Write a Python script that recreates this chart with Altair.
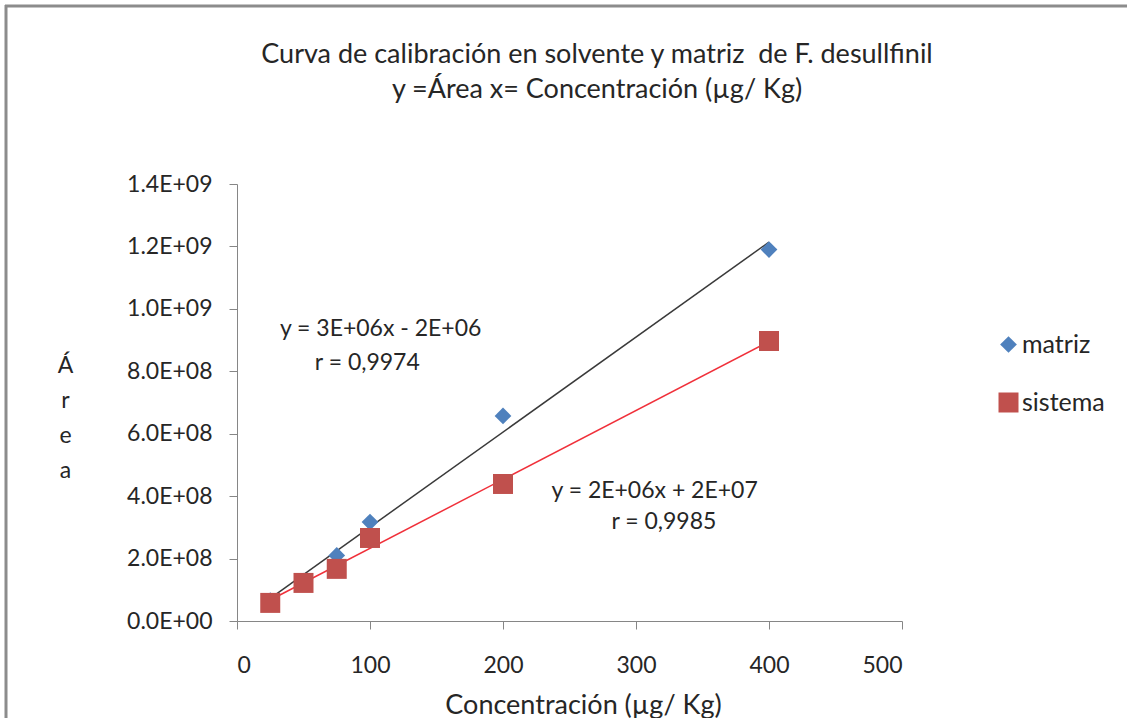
import altair as alt
import pandas as pd

# ---- data ----
conc = [25, 50, 75, 100, 200, 400]
matriz = [6.5e7, 1.28e8, 2.1e8, 3.17e8, 6.57e8, 1.19e9]
sistema = [5.8e7, 1.22e8, 1.67e8, 2.66e8, 4.39e8, 8.97e8]
series_names = ["matriz", "sistema"]
series_colors = ["#4f81bd", "#c0504d"]
series_shapes = ["diamond", "square"]
line_colors = ["#3a3a3a", "#f0303a"]

x_ticks = [0, 100, 200, 300, 400, 500]
y_ticks = [0, 2e8, 4e8, 6e8, 8e8, 1.0e9, 1.2e9, 1.4e9]

ann_text = ["y = 3E+06x - 2E+06", "r = 0,9974", "y = 2E+06x + 2E+07", "r = 0,9985"]
ann_x = [108, 98, 314, 321]
ann_y = [9.35e8, 8.27e8, 4.16e8, 3.17e8]

title_line1 = "Curva de calibración en solvente y matriz\u00a0 de F. desullfinil"
title_line2 = "y =Área x= Concentración (µg/ Kg)"

FONT = "Lato"
TXT = "#262626"
LBL = 23

rows = []
for name, vals in zip(series_names, [matriz, sistema]):
    for c, v in zip(conc, vals):
        rows.append({"serie": name, "conc": c, "area": v})
df = pd.DataFrame(rows)
ann = pd.DataFrame({"t": ann_text, "x": ann_x, "y": ann_y})

W, H = 665, 437
PAD_L, PAD_T = 237, 184

xscale = alt.Scale(domain=[0, 500], nice=False)
yscale = alt.Scale(domain=[0, 1.4e9], nice=False)

xaxis = alt.Axis(values=x_ticks, title="Concentración (µg/ Kg)", grid=False,
                 tickSize=8, labelFontSize=LBL, labelPadding=25, titleFontSize=27,
                 titlePadding=15, titleFontWeight="normal", titleX=346, titleAlign="center",
                 domainColor="#868686",
                 tickColor="#868686", labelColor=TXT, titleColor=TXT, labelFont=FONT,
                 titleFont=FONT)
yaxis = alt.Axis(values=y_ticks, grid=False, tickSize=8, labelFontSize=LBL, labelPadding=17,
                 labelExpr="datum.value == 0 ? '0.0E+00' : (datum.value >= 1e9 ? format(datum.value/1e9, '.1f') + 'E+09' : format(datum.value/1e8, '.1f') + 'E+08')",
                 title=["Á", "r", "e", "a"], titleAngle=0, titleX=-172, titleY=170,
                 titleBaseline="top", titleAlign="center", titleLineHeight=35,
                 titleFontSize=23, titleFontWeight="normal", domainColor="#868686",
                 tickColor="#868686", labelColor=TXT, titleColor=TXT, labelFont=FONT,
                 titleFont=FONT)

base = alt.Chart(df)

lines = []
for name, col in zip(series_names, line_colors):
    lines.append(
        base.transform_filter(alt.datum.serie == name)
        .transform_regression("conc", "area")
        .mark_line(color=col, strokeWidth=1.5)
        .encode(x=alt.X("conc:Q", scale=xscale, axis=xaxis),
                y=alt.Y("area:Q", scale=yscale, axis=yaxis))
    )

points = base.mark_point(filled=True, opacity=1).encode(
    x=alt.X("conc:Q", scale=xscale, axis=xaxis),
    y=alt.Y("area:Q", scale=yscale, axis=yaxis),
    color=alt.Color("serie:N", scale=alt.Scale(domain=series_names, range=series_colors),
                    legend=alt.Legend(title=None, orient="none", legendX=759, legendY=148,
                                      labelFontSize=25, labelFont=FONT, labelColor=TXT,
                                      symbolSize=220, rowPadding=32, labelOffset=1)),
    shape=alt.Shape("serie:N", scale=alt.Scale(domain=series_names, range=series_shapes)),
    size=alt.Size("serie:N", scale=alt.Scale(domain=series_names, range=[280, 400]), legend=None),
)

texts = alt.Chart(ann).mark_text(fontSize=LBL, font=FONT, color=TXT).encode(
    x=alt.X("x:Q", scale=xscale), y=alt.Y("y:Q", scale=yscale), text="t:N")

title_df = pd.DataFrame({"k": [0]})
title1 = alt.Chart(title_df).mark_text(fontSize=27, font=FONT, color=TXT, baseline="middle",
                                       text=title_line1).encode(
    x=alt.value(597 - PAD_L), y=alt.value(55 - PAD_T))
title2 = alt.Chart(title_df).mark_text(fontSize=27, font=FONT, color=TXT, baseline="middle",
                                       text=title_line2).encode(
    x=alt.value(597 - PAD_L), y=alt.value(90 - PAD_T))

border_df = pd.DataFrame({"k": [0]})
left_border = alt.Chart(border_df).mark_rule(color="#8c8c8c", strokeWidth=3).encode(
    x=alt.value(6 - PAD_L), y=alt.value(5 - PAD_T), y2=alt.value(718 - PAD_T))
top_border = alt.Chart(border_df).mark_rule(color="#8c8c8c", strokeWidth=3).encode(
    x=alt.value(5 - PAD_L), x2=alt.value(1127 - PAD_L), y=alt.value(6 - PAD_T))

chart = alt.layer(*lines, points, texts, title1, title2, left_border, top_border).properties(
    width=W, height=H,
    autosize=alt.AutoSizeParams(type="none"),
    padding={"left": PAD_L, "top": PAD_T, "right": 1127 - PAD_L - W, "bottom": 718 - PAD_T - H},
    background="white",
).configure_view(stroke=None)

chart.save("out.html", embed_options={"renderer": "svg", "actions": False})
